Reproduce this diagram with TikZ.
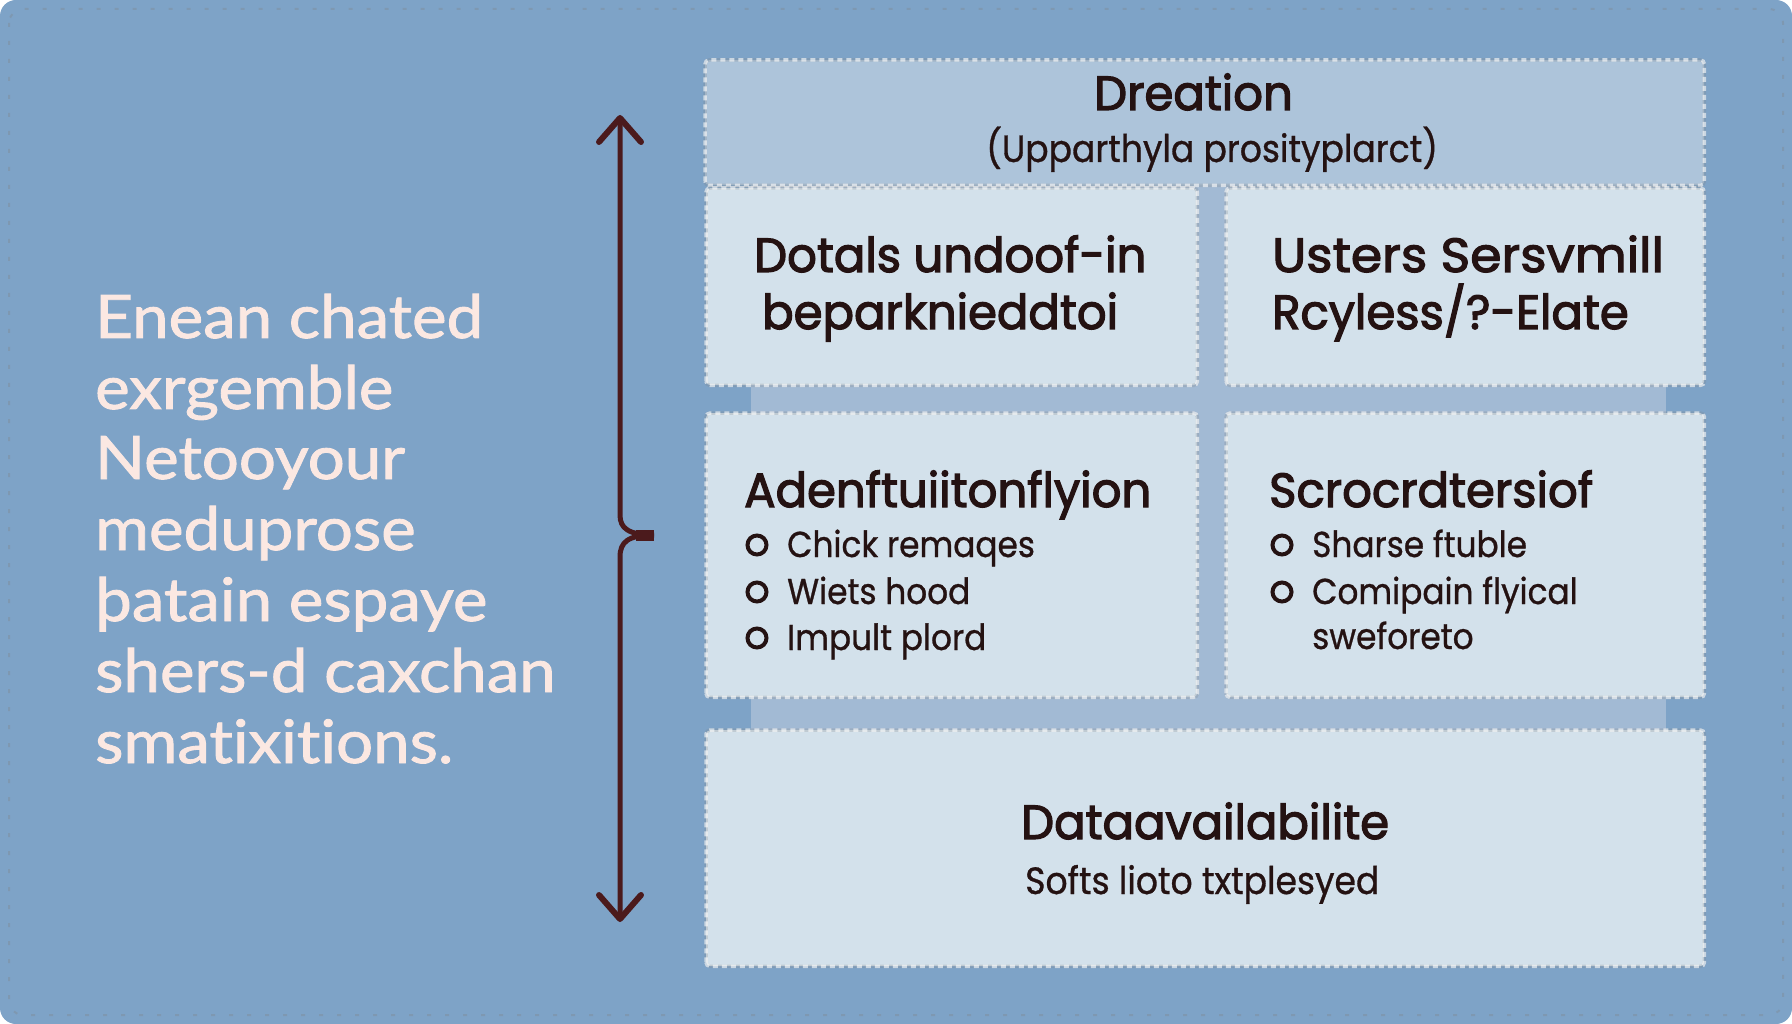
\documentclass[tikz,border=0pt]{standalone}
\usepackage{fontspec}
\usetikzlibrary{arrows.meta}
\setmainfont[FakeStretch=1.09,FakeBold=1.5,Ligatures=NoCommon]{Lato}
\newfontfamily\headfont[FakeStretch=0.97,FakeBold=2.5]{Poppins}
\newfontfamily\headwide[FakeStretch=1.05,FakeBold=2.5]{Poppins}
\newfontfamily\subfont[FakeStretch=0.91,FakeBold=0.8]{Poppins}
\definecolor{bgblue}{HTML}{7EA3C7}
\definecolor{bandblue}{HTML}{A2BAD4}
\definecolor{topblue}{HTML}{ADC4DA}
\definecolor{boxblue}{HTML}{D3E1EB}
\definecolor{inkdark}{HTML}{241212}
\definecolor{arrowred}{HTML}{4B1A1C}
\definecolor{textpink}{HTML}{FBE8E2}
\tikzset{
    panel/.style={rectangle,anchor=north west,fill=boxblue,rounded corners=4pt,inner sep=0pt},
    panelshade/.style={draw=gray,opacity=0.22,line width=3.5pt,rounded corners=4pt},
    panelrim/.style={draw=white,opacity=0.6,line width=3.5pt,dash pattern=on 5pt off 4pt,rounded corners=4pt},
    bodyline/.style={anchor=base west,inner sep=0pt,text=textpink,font=\fontsize{60}{60}\selectfont},
    headline/.style={anchor=base west,inner sep=0pt,text=inkdark,font=\headfont\fontsize{48}{48}\selectfont},
    headwider/.style={headline,font=\headwide\fontsize{48}{48}\selectfont},
    subline/.style={anchor=base west,inner sep=0pt,text=inkdark,font=\subfont\fontsize{36}{36}\selectfont},
    subwide/.style={subline,font=\subfont\fontsize{38}{38}\selectfont},
    bullet/.style={circle,draw=inkdark,line width=4pt,fill=boxblue,minimum size=19pt,inner sep=0pt},
    arrowline/.style={draw=arrowred,line width=5pt}
}
\begin{document}
\begin{tikzpicture}[x=1pt,y=-1pt]
    \useasboundingbox (0,0) rectangle (1792,1024);
    \fill[bgblue,rounded corners=16pt] (0,0) rectangle (1792,1024);
    \draw[gray!60!bgblue,opacity=0.5,line width=2pt,dash pattern=on 4pt off 14pt,rounded corners=14pt] (9,9) rectangle (1783,1015);
    % band behind the rows
    \fill[bandblue] (751,185) rectangle (1666,730);
    % panels
    \node[panel,fill=topblue,minimum width=999pt,minimum height=125pt] (dreation) at (705,60) {};
    \node[panel,minimum width=491pt,minimum height=197pt] (details) at (706,188) {};
    \node[panel,minimum width=478pt,minimum height=197pt] (users) at (1226,188) {};
    \node[panel,minimum width=491pt,minimum height=284pt] (adenft) at (706,413) {};
    \node[panel,minimum width=478pt,minimum height=284pt] (scrocr) at (1226,413) {};
    \node[panel,minimum width=998pt,minimum height=236pt] (data) at (706,730) {};
    \foreach \panelname in {dreation,details,users,adenft,scrocr,data}{
        \draw[panelshade] (\panelname.south west) rectangle (\panelname.north east);
        \draw[panelrim] (\panelname.south west) rectangle (\panelname.north east);
    }
    % left text
    \foreach \ytext/\linetext in {338/Enean chated,409/exrgemble,479/Netooyour,550/meduprose,621/þatain espaye,692/shers-d caxchan,763/smatixitions.}
    \node[bodyline] (line\ytext) at (95,\ytext) {\linetext};
    % arrow with brace
    \coordinate (arrowtop) at (620,115);
    \coordinate (arrowbot) at (620,922);
    \coordinate (bracetip) at (654,535);
    \draw[arrowline,-{Straight Barb[length=24pt,width=42pt,line width=6pt,round]}] (bracetip) .. controls (628,535) and (620,528) .. (620,515) -- (arrowtop);
    \draw[arrowline,-{Straight Barb[length=24pt,width=42pt,line width=6pt,round]}] (bracetip) .. controls (628,535) and (620,542) .. (620,557) -- (arrowbot);
    \draw[arrowred,line width=11pt] (636,535) -- (bracetip);
    % panel text
    \node[headline] (t0) at (1094,110) {Dreation};
    \node[subwide] (t1) at (986,162) {(Upparthyla prosityplarct)};
    \node[headline] (t2) at (754,272) {Dotals undoof-in};
    \node[headline] (t3) at (762,329) {beparknieddtoi};
    \node[headwider] (t4) at (1272,272) {Usters Sersvmill};
    \node[headline] (t5) at (1272,329) {Rcyless/?-Elate};
    \node[headline] (t6) at (744,507) {Adenftuiitonflyion};
    \node[headline] (t7) at (1269,507) {Scrocrdtersiof};
    \node[headline] (t8) at (1021,839) {Dataavailabilite};
    \node[subwide] (t9) at (1025,894) {Softs lioto txtplesyed};
    % lists
    \foreach \y/\itemtext in {545/Chick remaqes,592/Wiets hood,638/Impult plord}{
        \node[bullet] (a\y) at (757,\y) {};
        \node[subline] (b\y) at (787,\y+12) {\itemtext};
    }
    \foreach \y/\itemtext in {545/Sharse ftuble,592/Comipain flyical}{
        \node[bullet] (c\y) at (1282,\y) {};
        \node[subline] (d\y) at (1312,\y+12) {\itemtext};
    }
    \node[subline] (d638) at (1312,649) {sweforeto};
\end{tikzpicture}
\end{document}
